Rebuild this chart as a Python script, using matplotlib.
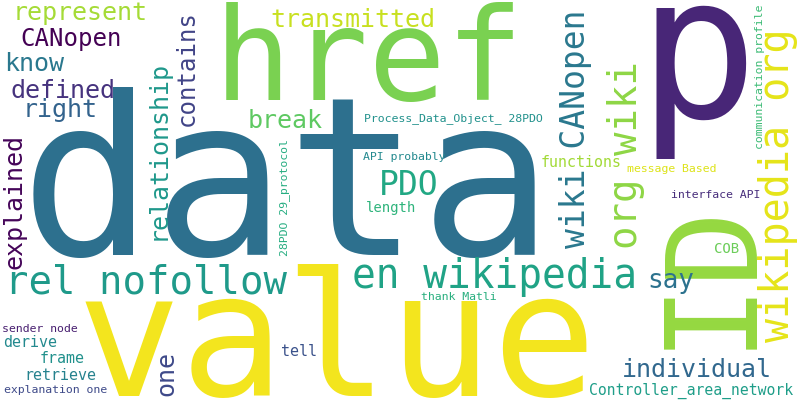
import matplotlib
matplotlib.use("Agg")
import matplotlib.pyplot as plt

# words of the cloud (biggest first)
words = ["data", "p", "value", "href", "ID", "en wikipedia", "rel nofollow",
         "wikipedia org", "org wiki", "wiki CANopen", "PDO", "represent",
         "CANopen", "know", "defined", "right", "break", "transmitted",
         "explained", "relationship", "contains", "one", "say", "individual",
         "functions", "frame", "derive", "retrieve", "tell", "length", "COB",
         "Controller_area_network", "Process_Data_Object_ 28PDO",
         "API probably", "message Based", "interface API",
         "communication profile", "28PDO 29_protocol", "thank Matli",
         "sender node", "explanation one"]

# layout: font size in px, x, y of the baseline start, vertical?
sizes = [222, 200, 173, 129, 126, 39.5, 39,
         40, 39, 33, 33, 25,
         24, 25, 25, 25, 25, 25,
         25, 25, 24, 25, 26, 25,
         15, 15, 15, 15, 15, 14, 14,
         14.8, 11.5,
         11.5, 11.5, 11.5,
         11.5, 11.5, 11.5,
         11.5, 11.5]
xs = [20, 637, 77, 214, 746, 352, 5,
      789, 637, 585, 379, 13,
      20, 4, 10, 23, 248, 270,
      21, 165, 194, 173, 647, 622,
      541, 40, 3, 24, 281, 366, 714,
      589, 364,
      363, 627, 671,
      763, 287, 421,
      2, 4]
ys = [255, 117, 396, 100, 349, 288, 293,
      342, 249, 248, 195, 20,
      46, 71, 98, 117, 128, 27,
      269, 240, 126, 396, 288, 377,
      167, 363, 347, 380, 356, 212, 253,
      395, 121,
      160, 172, 198,
      149, 256, 300,
      332, 393]
vertical = [0, 0, 0, 0, 1, 0, 0,
            1, 1, 1, 0, 0,
            0, 0, 0, 0, 0, 0,
            1, 1, 1, 1, 0, 0,
            0, 0, 0, 0, 0, 0, 0,
            0, 0,
            0, 0, 0,
            1, 1, 0,
            0, 0]
colors = ["#2d708e", "#482677", "#f3e51e", "#7ad151", "#95d840", "#20a386", "#1f9a8a",
          "#e5e419", "#8ed645", "#2a788e", "#22a884", "#a5db36",
          "#440154", "#2a788e", "#46337e", "#33638d", "#5ec962", "#c8e020",
          "#450559", "#1f988b", "#414487", "#3e4989", "#2c728e", "#31688e",
          "#a2da37", "#21918c", "#23898e", "#26828e", "#3b528b", "#2fb47c", "#6ccd5a",
          "#1f9e89", "#21918c",
          "#23898e", "#dde318", "#472d7b",
          "#3cbb75", "#26ad81", "#29af7f",
          "#481f70", "#3e4a89"]

fig = plt.figure(figsize=(8, 4), dpi=100)
ax = fig.add_axes([0, 0, 1, 1])
ax.set_xlim(0, 800)
ax.set_ylim(400, 0)
ax.axis("off")

for w, s, x, y, v, c in zip(words, sizes, xs, ys, vertical, colors):
    ax.text(x, y, w, fontsize=s * 72 / fig.dpi, family="DejaVu Sans Mono",
            color=c, ha="left", va="baseline",
            rotation=90 if v else 0, rotation_mode="anchor")

fig.savefig("out.png", dpi=100, facecolor="white")
